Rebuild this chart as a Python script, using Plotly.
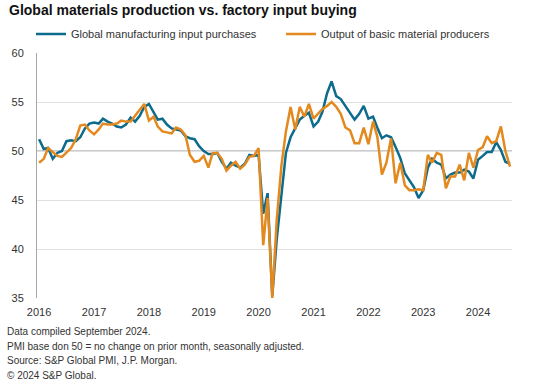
import pandas as pd
import plotly.graph_objects as go

months = pd.date_range("2016-01-01", periods=104, freq="MS")

input_purchases = [
    51.2, 50.2, 50.3, 49.2, 49.8, 50.0, 51.0, 51.1, 51.0, 51.4, 52.3, 52.8,  # 2016
    52.9, 52.8, 53.3, 53.0, 52.8, 52.5, 52.4, 52.7, 53.4, 53.0, 53.6, 54.5,  # 2017
    54.8, 54.0, 53.2, 53.3, 52.7, 52.3, 52.2, 52.1, 51.5, 51.3, 51.2, 50.5,  # 2018
    50.0, 49.7, 49.7, 49.8, 48.9, 48.2, 48.8, 48.5, 48.3, 48.7, 49.6, 49.5,  # 2019
    49.6, 43.6, 45.7, 35.2, 41.0, 45.5, 49.8, 51.4, 52.3, 53.2, 53.6, 53.9,  # 2020
    52.5, 53.0, 54.0, 55.9, 57.1, 55.6, 55.3, 54.6, 54.0, 53.2, 53.8, 54.6,  # 2021
    53.3, 53.5, 52.4, 51.3, 51.6, 51.4, 50.4, 49.3, 47.7, 47.0, 46.3, 45.2,  # 2022
    46.0, 48.3, 49.2, 48.8, 48.6, 47.2, 47.6, 47.8, 47.8, 48.1, 47.9, 47.2,  # 2023
    49.1, 49.5, 49.9, 49.9, 50.9, 50.1, 48.9, 48.7,                          # 2024
]

material_output = [
    48.8, 49.2, 50.3, 49.9, 49.5, 49.4, 49.8, 50.3, 51.2, 52.6, 52.7, 52.1,  # 2016
    51.7, 52.2, 52.8, 52.7, 52.7, 52.8, 53.1, 53.0, 53.0, 53.6, 54.2, 54.8,  # 2017
    53.1, 53.5, 52.5, 52.0, 51.9, 51.8, 52.4, 52.2, 51.6, 49.6, 48.9, 49.0,  # 2018
    49.5, 48.3, 49.8, 49.8, 49.2, 48.0, 48.5, 48.9, 48.2, 48.6, 49.4, 49.5,  # 2019
    50.3, 40.4, 45.2, 35.0, 43.0, 48.5, 52.0, 54.5, 52.2, 54.5, 53.5, 54.8,  # 2020
    53.3, 53.8, 54.3, 54.6, 55.0, 54.5, 53.8, 52.4, 52.1, 50.8, 50.8, 52.4,  # 2021
    50.7, 53.0, 51.5, 47.6, 48.8, 51.3, 46.7, 48.8, 46.5, 46.0, 46.0, 46.1,  # 2022
    46.0, 49.6, 48.8, 49.8, 49.6, 46.2, 47.4, 47.4, 48.6, 47.0, 49.8, 48.3,  # 2023
    50.1, 50.4, 51.5, 50.8, 51.0, 52.5, 50.0, 48.4,                          # 2024
]

year_ticks = pd.date_range("2016-01-01", "2024-01-01", freq="YS")
year_labels = [str(d.year) for d in year_ticks]

footnotes = [
    "Data compiled September 2024.",
    "PMI base don 50 = no change on prior month, seasonally adjusted.",
    "Source: S&P Global PMI, J.P. Morgan.",
    "\u00a9 2024 S&P Global.",
]

BLUE = "#0d6b8b"
ORANGE = "#e3891e"
FONT = "Liberation Sans, Arial, sans-serif"

W, H = 534, 386
L, R, T, B = 37, 22, 53, 88
PW, PH = W - L - R, H - T - B

fig = go.Figure()
fig.add_trace(go.Scatter(x=months, y=input_purchases, mode="lines",
                         name="Global manufacturing input purchases",
                         line=dict(color=BLUE, width=2.5)))
fig.add_trace(go.Scatter(x=months, y=material_output, mode="lines",
                         name="Output of basic material producers",
                         line=dict(color=ORANGE, width=2.5)))

fig.add_shape(type="line", xref="paper", yref="y", x0=0, x1=1, y0=50, y1=50,
              line=dict(color="#9a9a9a", width=1.2), layer="below")

def px_to_paper_y(ypix):
    return (H - B - ypix) / PH

def px_to_paper_x(xpix):
    return (xpix - L) / PW

annotations = [dict(text="<b>Global materials production vs. factory input buying</b>",
                    xref="paper", yref="paper", x=px_to_paper_x(7), y=px_to_paper_y(10),
                    xanchor="left", yanchor="middle", showarrow=False,
                    font=dict(family=FONT, size=14, color="#111111"))]
for i, t in enumerate(footnotes):
    annotations.append(dict(text=t, xref="paper", yref="paper",
                            x=px_to_paper_x(5), y=px_to_paper_y(331.5 + 14.5 * i),
                            xanchor="left", yanchor="middle", showarrow=False,
                            font=dict(family=FONT, size=10, color="#333333")))

fig.update_layout(
    width=W, height=H,
    margin=dict(l=L, r=R, t=T, b=B, pad=0, autoexpand=False),
    paper_bgcolor="white", plot_bgcolor="white",
    font=dict(family=FONT, size=11, color="#333333"),
    showlegend=True,
    legend=dict(orientation="h", x=px_to_paper_x(31), y=px_to_paper_y(34),
                xanchor="left", yanchor="middle",
                font=dict(family=FONT, size=11, color="#333333"),
                entrywidth=205, entrywidthmode="pixels",
                bgcolor="rgba(0,0,0,0)", tracegroupgap=0),
    annotations=annotations,
    xaxis=dict(type="date", range=["2015-12-18", "2024-08-14"],
               tickvals=year_ticks, ticktext=year_labels,
               showgrid=False, showline=False, zeroline=False,
               ticks="", ticklabelstandoff=6,
               tickfont=dict(family=FONT, size=11, color="#333333")),
    yaxis=dict(range=[35, 60], dtick=5, tick0=35,
               showgrid=True, gridcolor="#e0e0e0", gridwidth=1,
               showline=True, linecolor="#a8a8a8", linewidth=1,
               zeroline=False, ticks="", ticklabelstandoff=10,
               tickfont=dict(family=FONT, size=11, color="#333333")),
)

fig.write_html("out.html", config={"displayModeBar": False},
               post_script="document.body.style.margin='0';")
